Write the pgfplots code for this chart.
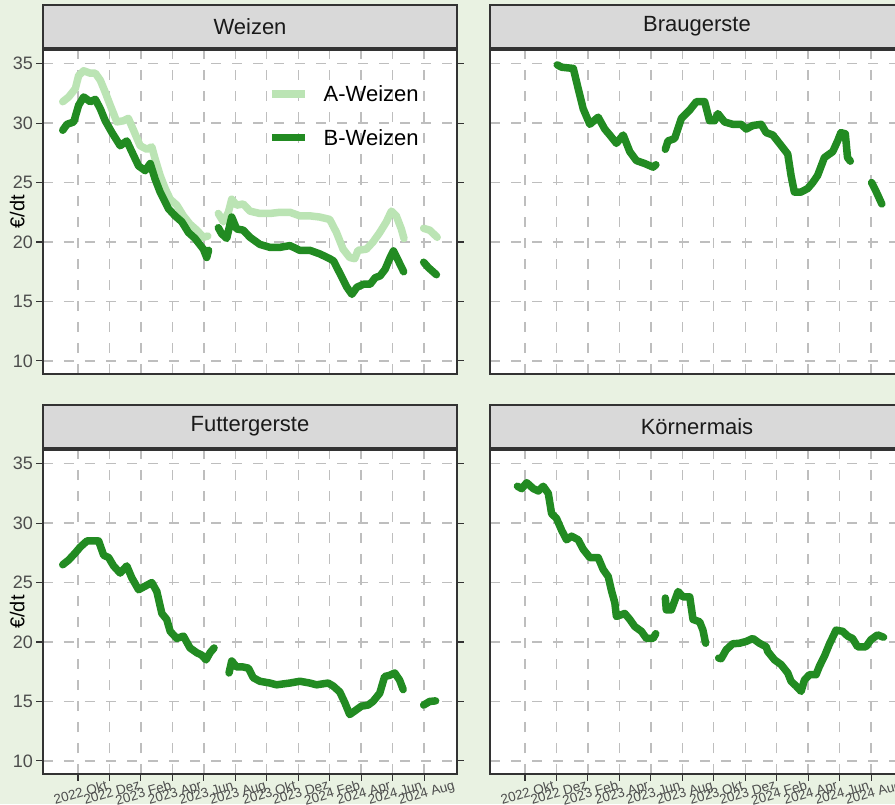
\documentclass[border=0pt]{standalone}
\usepackage{pgfplots}
\pgfplotsset{compat=1.18}
\usepackage{pgfplotstable}
\usepackage{fontspec}
\setmainfont{Liberation Sans}

\definecolor{bg}{RGB}{233,242,226}
\definecolor{dkgreen}{RGB}{34,139,34}
\definecolor{ltgreen}{RGB}{187,228,180}
\definecolor{gridgray}{RGB}{190,190,190}
\definecolor{frame}{RGB}{51,51,51}
\definecolor{ticktext}{RGB}{77,77,77}
\definecolor{stripgray}{RGB}{217,217,217}
\definecolor{striptext}{RGB}{26,26,26}

% x = months since Jan 2022 (9 = 2022 Okt)
\pgfplotstableread{
m v
8.03 31.8
8.41 32.2
8.83 32.9
9.04 34.0
9.36 34.4
9.78 34.2
10.10 34.2
10.42 33.6
10.73 32.6
11.05 31.5
11.47 30.1
11.90 30.2
12.20 30.4
12.53 29.4
12.95 28.1
13.38 27.8
13.69 28.0
13.90 27.0
14.22 25.6
14.54 24.5
14.86 23.6
15.28 23.1
15.70 22.2
16.12 21.5
16.55 21.0
16.97 20.4
17.25 20.5
nan nan
17.92 22.4
18.24 21.7
18.56 22.5
18.77 23.6
19.08 23.1
19.50 23.2
19.93 22.6
20.56 22.4
21.20 22.4
21.83 22.5
22.47 22.5
23.10 22.2
23.74 22.2
24.37 22.1
25.00 21.9
25.43 20.8
25.85 19.4
26.27 18.7
26.59 18.6
26.80 19.3
27.33 19.4
27.75 20.0
28.18 20.8
28.60 21.7
28.92 22.6
29.23 22.2
29.55 21.1
29.72 20.3
nan nan
30.97 21.15
31.35 21.0
31.83 20.4
}\WA

\pgfplotstableread{
m v
8.03 29.4
8.30 29.9
8.73 30.1
9.04 31.5
9.36 32.2
9.78 31.8
10.10 32.0
10.42 31.2
10.73 30.2
11.16 29.2
11.68 28.1
12.10 28.5
12.42 27.6
12.85 26.4
13.27 26.0
13.59 26.6
13.90 25.3
14.22 24.2
14.75 22.8
15.17 22.2
15.60 21.7
16.02 20.8
16.44 20.3
16.97 19.4
17.18 18.7
17.30 19.3
nan nan
17.92 21.2
18.13 20.7
18.45 20.3
18.77 22.1
19.08 21.1
19.50 21.0
19.93 20.4
20.56 19.8
21.20 19.55
21.83 19.55
22.47 19.7
23.10 19.3
23.74 19.3
24.37 19.0
25.00 18.6
25.25 18.4
25.67 17.3
26.09 16.2
26.41 15.6
26.73 16.2
27.15 16.45
27.57 16.45
27.89 17.0
28.20 17.15
28.52 17.7
28.84 18.7
29.05 19.25
29.37 18.4
29.70 17.5
nan nan
30.97 18.3
31.27 17.85
31.78 17.25
}\WB

\pgfplotstableread{
m v
11.05 34.9
11.33 34.7
12.07 34.6
12.38 32.9
12.70 31.2
13.12 29.9
13.65 30.5
14.07 29.5
14.39 29.0
14.81 28.3
15.24 29.0
15.66 27.6
16.08 26.85
16.61 26.6
17.14 26.3
17.32 26.5
nan nan
17.92 27.8
18.09 28.5
18.51 28.7
18.94 30.4
19.47 31.1
19.89 31.8
20.42 31.8
20.73 30.2
21.05 30.2
21.26 30.8
21.68 30.1
22.20 29.9
22.74 29.9
23.06 29.5
23.48 29.8
24.01 29.9
24.33 29.2
24.75 29.0
25.17 28.3
25.70 27.4
25.91 25.6
26.12 24.2
26.54 24.2
26.97 24.5
27.29 25.0
27.60 25.6
28.03 27.1
28.56 27.6
28.87 28.5
29.08 29.2
29.36 29.1
29.50 27.1
29.68 26.8
nan nan
31.03 25.0
31.30 24.3
31.68 23.2
}\BG

\pgfplotstableread{
m v
8.03 26.5
8.41 26.9
8.83 27.5
9.15 28.0
9.57 28.5
9.99 28.5
10.31 28.5
10.63 27.3
10.95 27.1
11.26 26.4
11.68 25.8
12.10 26.4
12.42 25.4
12.85 24.4
13.27 24.7
13.69 25.0
14.01 24.25
14.33 22.4
14.64 21.9
14.86 20.9
15.28 20.3
15.70 20.5
16.12 19.5
16.55 19.1
16.86 18.9
17.14 18.5
17.39 19.1
17.65 19.5
nan nan
18.60 17.4
18.77 18.4
19.08 17.9
19.50 17.9
19.83 17.8
20.14 17.0
20.56 16.7
21.20 16.55
21.62 16.4
22.47 16.55
23.10 16.7
23.74 16.55
24.16 16.4
24.90 16.55
25.22 16.3
25.64 15.8
25.96 14.9
26.27 13.9
26.59 14.2
27.01 14.6
27.44 14.7
27.75 15.0
28.18 15.7
28.49 17.1
28.81 17.2
29.13 17.4
29.44 16.8
29.67 16.0
nan nan
30.97 14.7
31.35 15.0
31.73 15.05
}\FG

\pgfplotstableread{
m v
8.52 33.1
8.79 32.9
9.11 33.4
9.53 32.9
9.85 32.7
10.16 33.1
10.48 32.5
10.69 30.8
11.00 30.4
11.33 29.4
11.64 28.6
11.96 28.9
12.38 28.6
12.70 27.8
13.12 27.1
13.65 27.1
13.97 26.1
14.29 25.5
14.50 24.3
14.71 23.3
14.81 22.15
15.34 22.4
15.66 21.9
15.98 21.3
16.40 20.9
16.72 20.3
17.14 20.3
17.31 20.7
nan nan
17.92 23.7
17.98 22.7
18.30 22.7
18.73 24.25
19.04 23.8
19.47 23.8
19.68 21.9
20.10 21.7
20.31 21.0
20.48 19.9
nan nan
21.31 18.65
21.47 18.6
21.79 19.35
22.20 19.85
22.64 19.9
23.06 20.05
23.48 20.3
23.90 19.9
24.33 19.6
24.43 19.2
24.86 18.5
25.28 18.1
25.70 17.4
25.91 16.7
26.23 16.3
26.55 15.85
26.76 16.8
27.08 17.25
27.50 17.25
27.71 17.95
28.03 18.8
28.34 19.8
28.77 21.0
29.19 20.9
29.51 20.5
29.82 20.3
30.14 19.6
30.67 19.6
30.99 20.2
31.41 20.6
31.79 20.4
}\KM

\pgfplotsset{
  panel/.style={
    width=414pt, height=324pt, scale only axis,
    xmin=6.775, xmax=33.09, ymin=8.9, ymax=36.15,
    axis background/.style={fill=white},
    axis line style={frame, line width=1.1pt},
    grid=major,
    major grid style={gridgray, line width=1.4pt, dash pattern=on 10pt off 11pt},
    xtick={9,11,...,31}, ytick={10,15,...,35},
    tick align=outside, major tick length=6.5pt,
    tick style={frame, line width=1.1pt},
    xticklabels={}, yticklabels={},
    unbounded coords=jump,
    /pgf/number format/assume math mode=true,
    every axis plot/.style={line width=7.5pt, line cap=round, line join=round},
  },
  leftcol/.style={
    yticklabels={10,15,20,25,30,35},
    yticklabel style={font=\fontsize{18}{20}\selectfont, text=ticktext},
    ylabel={€/dt},
    ylabel style={at={(axis description cs:-0.062,0.5)}, anchor=center,
      font=\fontsize{20}{22}\selectfont, text=black},
  },
  rightcol/.style={ymajorticks=false},
  toprow/.style={xmajorticks=false},
  botrow/.style={
    xticklabels={2022 Okt,2022 Dez,2023 Feb,2023 Apr,2023 Jun,2023 Aug,2023 Okt,2023 Dez,2024 Feb,2024 Apr,2024 Jun,2024 Aug},
    xticklabel shift=4pt,
    xticklabel style={font=\fontsize{13.5}{15}\selectfont, text=ticktext, rotate=16, anchor=north},
  },
}

\begin{document}
\begin{tikzpicture}[x=1pt,y=1pt]
\fill[bg] (0,0) rectangle (895,804);
\useasboundingbox (0,0) rectangle (895,804);

\begin{axis}[panel, leftcol, toprow, at={(43pt,430pt)}, anchor=south west,
  legend cell align=left,
  legend image code/.code={\draw[#1, line cap=butt] (0pt,0pt) -- (33pt,0pt);},
  legend style={at={(0.5435,0.890)}, anchor=north west, draw=none, fill=none,
    inner sep=0pt, font=\fontsize{22}{24}\selectfont, row sep=28pt, column sep=15pt,
    nodes={inner sep=0pt, text depth=0pt}}]
\addplot[ltgreen] table[x=m,y=v] {\WA};
\addlegendentry{A-Weizen}
\addplot[dkgreen] table[x=m,y=v] {\WB};
\addlegendentry{B-Weizen}
\end{axis}

\begin{axis}[panel, rightcol, toprow, at={(490pt,430pt)}, anchor=south west]
\addplot[dkgreen] table[x=m,y=v] {\BG};
\end{axis}

\begin{axis}[panel, leftcol, botrow, at={(43pt,30pt)}, anchor=south west]
\addplot[dkgreen] table[x=m,y=v] {\FG};
\end{axis}

\begin{axis}[panel, rightcol, botrow, at={(490pt,30pt)}, anchor=south west]
\addplot[dkgreen] table[x=m,y=v] {\KM};
\end{axis}

\begin{scope}[font=\fontsize{22}{24}\selectfont, text=striptext]
\draw[fill=stripgray, draw=frame, line width=1.1pt] (43,756) rectangle (457,799);
\node at (250,777.5) {Weizen};
\draw[fill=stripgray, draw=frame, line width=1.1pt] (490,756) rectangle (904,799);
\node at (697,777.5) {Braugerste};
\draw[fill=stripgray, draw=frame, line width=1.1pt] (43,356) rectangle (457,399);
\node at (250,377.5) {Futtergerste};
\draw[fill=stripgray, draw=frame, line width=1.1pt] (490,356) rectangle (904,399);
\node at (697,377.5) {Körnermais};
\end{scope}
\end{tikzpicture}
\end{document}
